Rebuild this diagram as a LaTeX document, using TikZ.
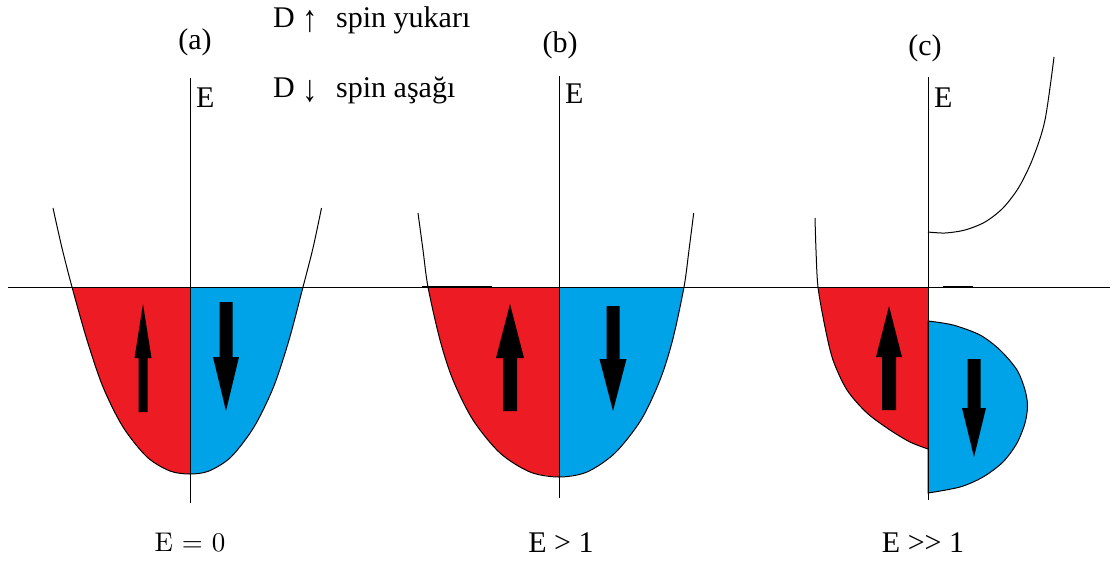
\documentclass[tikz,border=0pt]{standalone}
\usepackage{fontspec}
\usepackage{graphicx}
\setmainfont{Liberation Serif}
\newfontfamily\lmfont{lmroman10-regular}[Extension=.otf]
\definecolor{spinred}{RGB}{237,28,36}
\definecolor{spinblue}{RGB}{0,162,232}
\newcommand{\spinarrow}[6]{\fill[black] (#1-#5,#2) -- (#1-#5,#3) -- (#1-#6,#3) -- (#1,#4) -- (#1+#6,#3) -- (#1+#5,#3) -- (#1+#5,#2) -- cycle;}
\newcommand{\tallglyph}[1]{\raisebox{-4pt}{\scalebox{1}[1.25]{#1}}}
\tikzset{
  thinline/.style={line width=1pt, draw=black},
  lbl/.style={inner sep=0pt, font=\fontsize{30}{36}\selectfont},
  leg/.style={inner sep=0pt, anchor=base west, font=\fontsize{30}{36}\selectfont},
}
\begin{document}
\begin{tikzpicture}[x=1pt,y=-1pt]
\useasboundingbox (0,0) rectangle (1114,563);
\fill[white] (0,0) rectangle (1114,563);

% ---------- panel (a) ----------
\fill[spinred] plot[smooth] coordinates {(72,287) (87,340) (103,387) (123,427) (147,457) (170,471) (190,474)} -- (190,287) -- cycle;
\fill[spinblue] plot[smooth] coordinates {(303,287) (289,340) (273.5,387) (254,427) (231,457) (209,471) (190,474)} -- (190,287) -- cycle;
\draw[thinline] plot[smooth] coordinates {(53,208) (62,248) (72,287) (87,340) (103,387) (123,427) (147,457) (170,471) (190,474) (209,471) (231,457) (254,427) (273.5,387) (289,340) (303,287) (313,248) (321.5,208)};
\spinarrow{143}{412}{358}{304}{4.5}{8.5}
\spinarrow{226}{302}{357}{411}{6.5}{13}

% ---------- panel (b) ----------
\fill[spinred] plot[smooth] coordinates {(428,287) (440,340) (453,380) (473,420) (500,453) (530,472) (559,477)} -- (559,287) -- cycle;
\fill[spinblue] plot[smooth] coordinates {(684,287) (672.6,340) (660,380) (641,420) (615,453) (587,472) (559,477)} -- (559,287) -- cycle;
\draw[thinline] plot[smooth] coordinates {(418,213) (423,250) (428,287) (440,340) (453,380) (473,420) (500,453) (530,472) (559,477) (587,472) (615,453) (641,420) (660,380) (672.6,340) (684,287) (689,250) (693.7,213)};
\spinarrow{510}{411}{358}{304}{7}{14}
\spinarrow{613}{306}{359}{411}{6.5}{13.5}

% ---------- panel (c) ----------
\fill[spinred] plot[smooth] coordinates {(818,287) (825,327) (833,360) (847,390) (867,413) (890,430) (910,442) (928,449)} -- (928,287) -- cycle;
\draw[thinline] plot[smooth] coordinates {(815,218) (816,250) (818,287) (825,327) (833,360) (847,390) (867,413) (890,430) (910,442) (928,449)};
\filldraw[fill=spinblue, thinline] plot[smooth] coordinates {(928,321) (953,325) (980,335) (1000,350) (1017,370) (1025,390) (1027.5,406) (1025,423) (1017,443) (1003,462) (983,477) (960,487) (928,493)} -- cycle;
\draw[thinline] plot[smooth] coordinates {(928,232) (945,233) (965,230) (985,222) (1003,208) (1019,187) (1033,158) (1045,120) (1054,57)};
\spinarrow{889}{410}{357}{306}{7}{13}
\spinarrow{974}{359}{408}{457}{6.5}{12}

% ---------- axes ----------
\coordinate (hl) at (8,287);
\coordinate (hr) at (1110,287);
\draw[thinline] (hl) -- (hr);
\draw[line width=1.8pt] (422,287) -- (492,287);
\draw[line width=1.8pt] (943,287) -- (973,287);
\coordinate (at) at (190,78);  \coordinate (ab) at (190,503);
\coordinate (bt) at (559,76);  \coordinate (bb) at (559,498);
\coordinate (ct) at (928,77);  \coordinate (cb) at (928,500);
\draw[thinline] (at) -- (ab);
\draw[thinline] (bt) -- (bb);
\draw[thinline] (ct) -- (cb);

% ---------- labels ----------
\node[lbl] (la) at (195,42) {(a)};
\node[lbl] (lb) at (560,45) {(b)};
\node[lbl] (lc) at (925,48) {(c)};
\node[lbl, anchor=west] (ea) at (196,98) {E};
\node[lbl, anchor=west] (eb) at (565,94) {E};
\node[lbl, anchor=west] (ec) at (934,98) {E};
\node[lbl] (ba) at (190,543) {\lmfont\fontsize{27}{32}\selectfont E = 0};
\node[lbl] (bb2) at (561,543) {E > 1};
\node[lbl] (bc) at (923,543) {E >{}> 1};

% ---------- legend ----------
\node[leg] (d1) at (273,27) {D \tallglyph{↑}};
\node[leg] (s1) at (336,27) {spin yukarı};
\node[leg] (d2) at (273,97) {D \tallglyph{↓}};
\node[leg] (s2) at (336,97) {spin aşağı};
\end{tikzpicture}
\end{document}
